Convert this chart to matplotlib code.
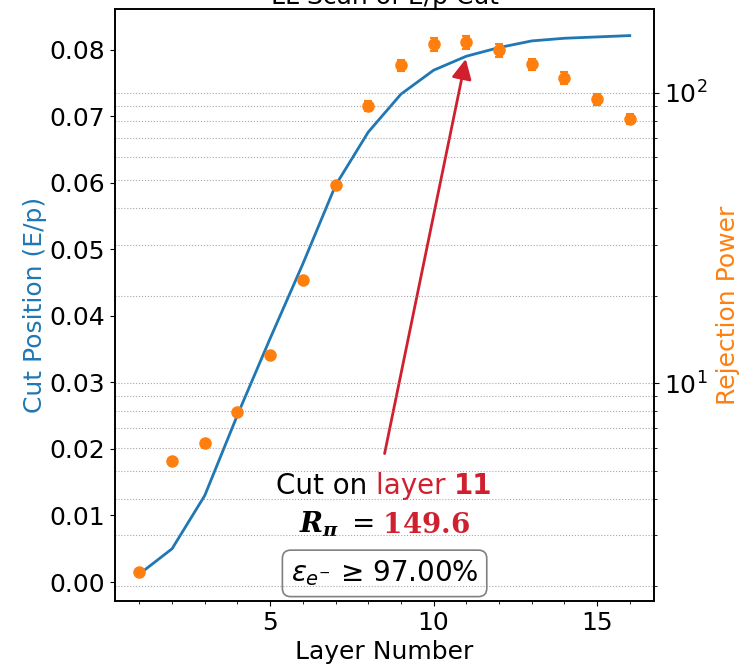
import numpy as np
import matplotlib
matplotlib.use("Agg")
import matplotlib.pyplot as plt
from matplotlib.ticker import MultipleLocator

# ================= DATA =================
layers = [1, 2, 3, 4, 5, 6, 7, 8, 9, 10, 11, 12, 13, 14, 15, 16]

cut_pos = [0.0012, 0.0050, 0.0130, 0.0251, 0.0366, 0.0478, 0.0596, 0.0676,
           0.0733, 0.0769, 0.0790, 0.0803, 0.0813, 0.0817, 0.0819, 0.0821]

rej_power = [2.23, 5.39, 6.24, 7.94, 12.5, 22.7, 48.3, 90.2,
             124.4, 146.8, 149.6, 140.3, 125.4, 112.5, 94.9, 81.5]
rej_err = [0.03, 0.06, 0.07, 0.09, 0.15, 0.3, 0.7, 3.8,
           5.8, 7.5, 7.8, 7.0, 5.8, 5.0, 4.0, 3.3]

best_layer = 11
best_rej = 149.6
eff_label = "97.00%"
# ========================================

RED = "#d0202f"
FS = 18

fig, ax = plt.subplots(figsize=(7.41, 6.67), dpi=100)
fig.subplots_adjust(left=0.155, right=0.883, bottom=0.099, top=0.987)

# ---------- cut position (left axis) ----------
ax.plot(layers, cut_pos, color="C0", lw=2)
ax.set_xlabel("Layer Number", fontsize=FS)
ax.set_ylabel("Cut Position (E/p)", color="C0", fontsize=FS, labelpad=2)
ax.xaxis.set_major_locator(MultipleLocator(5))
ax.xaxis.set_minor_locator(MultipleLocator(1))
ax.tick_params(labelsize=FS)
ax.set_title("LL Scan of E/p Cut", fontsize=FS, pad=1)

# ---------- rejection power (right axis) ----------
ax2 = ax.twinx()
ax2.errorbar(layers, rej_power, yerr=rej_err, fmt="o", color="C1",
             ms=8, capsize=3, elinewidth=1.5, capthick=1.5)
ax2.set_yscale("log")
ax2.set_ylabel("Rejection Power", color="C1", fontsize=FS, labelpad=6)
ax2.tick_params(labelsize=FS)
ax2.grid(True, which="both", axis="y", ls=":", color="gray", alpha=0.7)

for a in (ax, ax2):
    for sp in a.spines.values():
        sp.set_linewidth(1.2)

# ---------- annotation ----------
ax.annotate("", xy=(best_layer, cut_pos[best_layer - 1]), xytext=(8.5, 0.0193),
            arrowprops=dict(arrowstyle="-|>", color=RED, lw=2, mutation_scale=30,
                            shrinkA=0, shrinkB=2))

t1 = ax.text(5.17, 0.0132, "Cut on ", fontsize=20, va="baseline")
t2 = ax.annotate("layer ", xy=(1, 0), xycoords=t1, va="bottom", fontsize=20, color=RED)
t3 = ax.annotate(f"{best_layer}", xy=(1, 0), xycoords=t2, va="bottom", fontsize=20,
                 color=RED, fontweight="bold")

r1 = ax.text(5.9, 0.0075, r"$\mathbfit{R}_{\mathbfit{\pi}}\ =$", fontsize=20,
             va="baseline", math_fontfamily="dejavuserif")
r2 = ax.annotate(r"$\ \mathbf{" + f"{best_rej:.1f}" + "}$", xy=(1, 0), xycoords=r1,
                 va="bottom", fontsize=20, color=RED, math_fontfamily="dejavuserif")

# centre the R_pi line on x = 8.5
fig.canvas.draw()
b1 = r1.get_window_extent()
b2 = r2.get_window_extent()
xc = ax.transData.transform((8.5, 0))[0]
shift = xc - (b1.x0 + b2.x1) / 2
x0_new = ax.transData.inverted().transform((ax.transData.transform((5.9, 0))[0] + shift, 0))[0]
r1.set_x(x0_new)

ax.text(8.5, 0.0013, r"$\varepsilon_{e^{-}}$ ≥ " + eff_label, fontsize=20,
        ha="center", va="center",
        bbox=dict(boxstyle="round,pad=0.3", fc="white", ec="gray", lw=1.2))

plt.savefig("out.png", dpi=100)
